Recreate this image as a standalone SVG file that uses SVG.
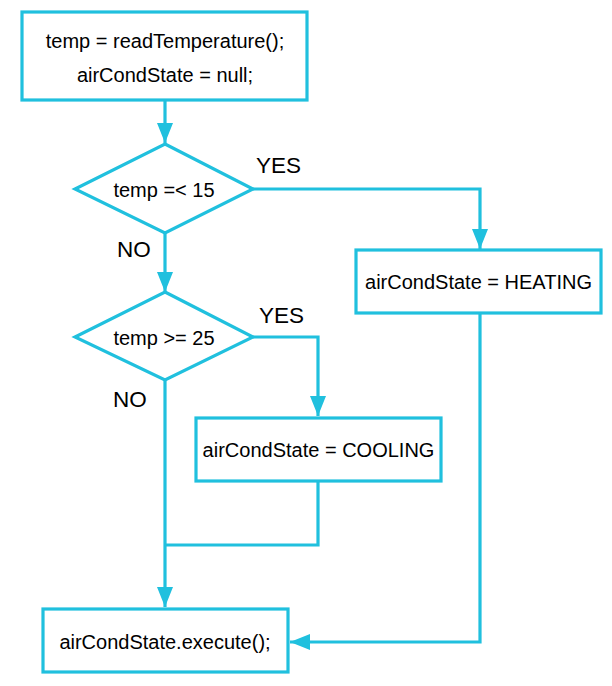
<svg xmlns="http://www.w3.org/2000/svg" width="612" height="686" viewBox="0 0 612 686">
<style>
.shape{fill:#fff;stroke:#20c0de;stroke-width:3.2}
.conn{fill:none;stroke:#20c0de;stroke-width:3.2}
.t{font-family:"Liberation Sans",Arial,sans-serif;font-size:20px;fill:#000;text-anchor:middle}
.lbl{font-family:"Liberation Sans",Arial,sans-serif;font-size:22.5px;fill:#000}
</style>
<defs>
<marker id="arr" viewBox="0 0 20 16" refX="20" refY="8" markerWidth="20" markerHeight="16" markerUnits="userSpaceOnUse" orient="auto">
<path d="M0,0 L20,8 L0,16 z" fill="#20c0de"/>
</marker>
</defs>
<rect width="612" height="686" fill="#fff"/>
<g id="connectors">
<path class="conn" d="M165,101 L165,143" marker-end="url(#arr)"/>
<path class="conn" d="M253,189 L480,189 L480,249" marker-end="url(#arr)"/>
<path class="conn" d="M165,233 L165,292" marker-end="url(#arr)"/>
<path class="conn" d="M253,337 L318,337 L318,416" marker-end="url(#arr)"/>
<path class="conn" d="M480,313 L480,642 L290,642" marker-end="url(#arr)"/>
<path class="conn" d="M318,481 L318,545 L165,545"/>
<path class="conn" d="M165,380 L165,607" marker-end="url(#arr)"/>
</g>
<g id="start">
<rect class="shape" x="22" y="12" width="285" height="88"/>
<text class="t" x="165" y="48">temp = readTemperature();</text>
<text class="t" x="165" y="82">airCondState = null;</text>
</g>
<g id="dec1">
<polygon class="shape" points="165,144 253,189 165,233 75,189"/>
<text class="t" x="164" y="197">temp =&lt; 15</text>
</g>
<g id="heating">
<rect class="shape" x="356" y="250" width="245" height="63"/>
<text class="t" x="478.5" y="289">airCondState = HEATING</text>
</g>
<g id="dec2">
<polygon class="shape" points="165,292 253,337 165,380 75,337"/>
<text class="t" x="164" y="345">temp &gt;= 25</text>
</g>
<g id="cooling">
<rect class="shape" x="196" y="418" width="245" height="63"/>
<text class="t" x="318.5" y="457">airCondState = COOLING</text>
</g>
<g id="execute">
<rect class="shape" x="43" y="609" width="245" height="63"/>
<text class="t" x="165" y="649">airCondState.execute();</text>
</g>
<g id="labels">
<text class="lbl" x="256" y="173">YES</text>
<text class="lbl" x="117" y="257">NO</text>
<text class="lbl" x="259" y="323">YES</text>
<text class="lbl" x="113" y="407">NO</text>
</g>
</svg>
